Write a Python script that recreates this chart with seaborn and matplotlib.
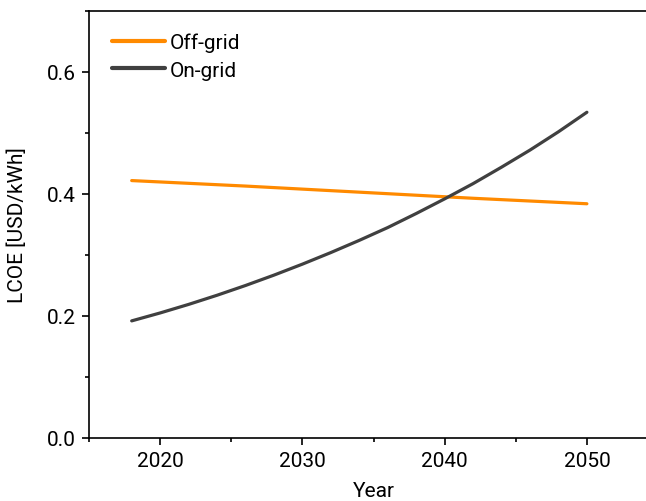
import matplotlib
matplotlib.use("Agg")
import matplotlib.pyplot as plt
from matplotlib.ticker import MultipleLocator
import pandas as pd
import seaborn as sns

# Levelised cost of electricity, USD/kWh
off_years = [2018, 2026, 2034, 2042, 2050]
off_grid = [0.422, 0.413, 0.403, 0.393, 0.384]

on_years = [2018, 2020, 2022, 2024, 2026, 2028, 2030, 2032, 2034, 2036,
            2038, 2040, 2042, 2044, 2046, 2048, 2050]
on_grid = [0.192, 0.205, 0.219, 0.234, 0.250, 0.267, 0.285, 0.304, 0.324,
           0.345, 0.368, 0.392, 0.417, 0.444, 0.472, 0.502, 0.534]

series_names = ["Off-grid", "On-grid"]
series_colors = ["#FF8A00", "#404040"]
x_ticks = [2020, 2030, 2040, 2050]
y_ticks = [0.0, 0.2, 0.4, 0.6]

df = pd.concat([
    pd.DataFrame({"Year": off_years, "LCOE": off_grid, "Series": series_names[0]}),
    pd.DataFrame({"Year": on_years, "LCOE": on_grid, "Series": series_names[1]}),
], ignore_index=True)

sns.set_theme(style="ticks")
plt.rcParams["font.family"] = ["Roboto", "DejaVu Sans"]
plt.rcParams["text.color"] = "black"
plt.rcParams["axes.labelcolor"] = "black"

fig = plt.figure(figsize=(6.46, 5.02), dpi=100)
ax = fig.add_axes([0.1378, 0.1255, 0.8808, 0.8506])

sns.lineplot(data=df, x="Year", y="LCOE", hue="Series",
             palette=dict(zip(series_names, series_colors)),
             linewidth=2.3, ax=ax)

ax.set_xlim(2015, 2055)
ax.set_ylim(0, 0.7)
ax.set_xticks(x_ticks)
ax.set_xticklabels([str(v) for v in x_ticks])
ax.set_yticks(y_ticks)
ax.set_yticklabels([f"{v:.1f}" for v in y_ticks])
ax.xaxis.set_minor_locator(MultipleLocator(5))
ax.yaxis.set_minor_locator(MultipleLocator(0.1))

for s in ax.spines.values():
    s.set_linewidth(1.2)
    s.set_color("black")
ax.tick_params(which="major", direction="out", length=5, width=1.2,
               labelsize=15, colors="black", pad=4.5)
ax.tick_params(which="minor", direction="out", length=3, width=1.2,
               colors="black")

ax.set_xlabel("Year", fontsize=15, labelpad=8)
ax.set_ylabel("LCOE [USD/kWh]", fontsize=15, labelpad=14)

leg = ax.legend(loc="upper left", frameon=False, fontsize=15,
                handlelength=2.55, handletextpad=0.24, labelspacing=0.42,
                borderaxespad=0.0, borderpad=0.0,
                bbox_to_anchor=(23 / 569, 0.950))
for h in leg.get_lines():
    h.set_linewidth(3)

fig.savefig("out.png", dpi=100)
